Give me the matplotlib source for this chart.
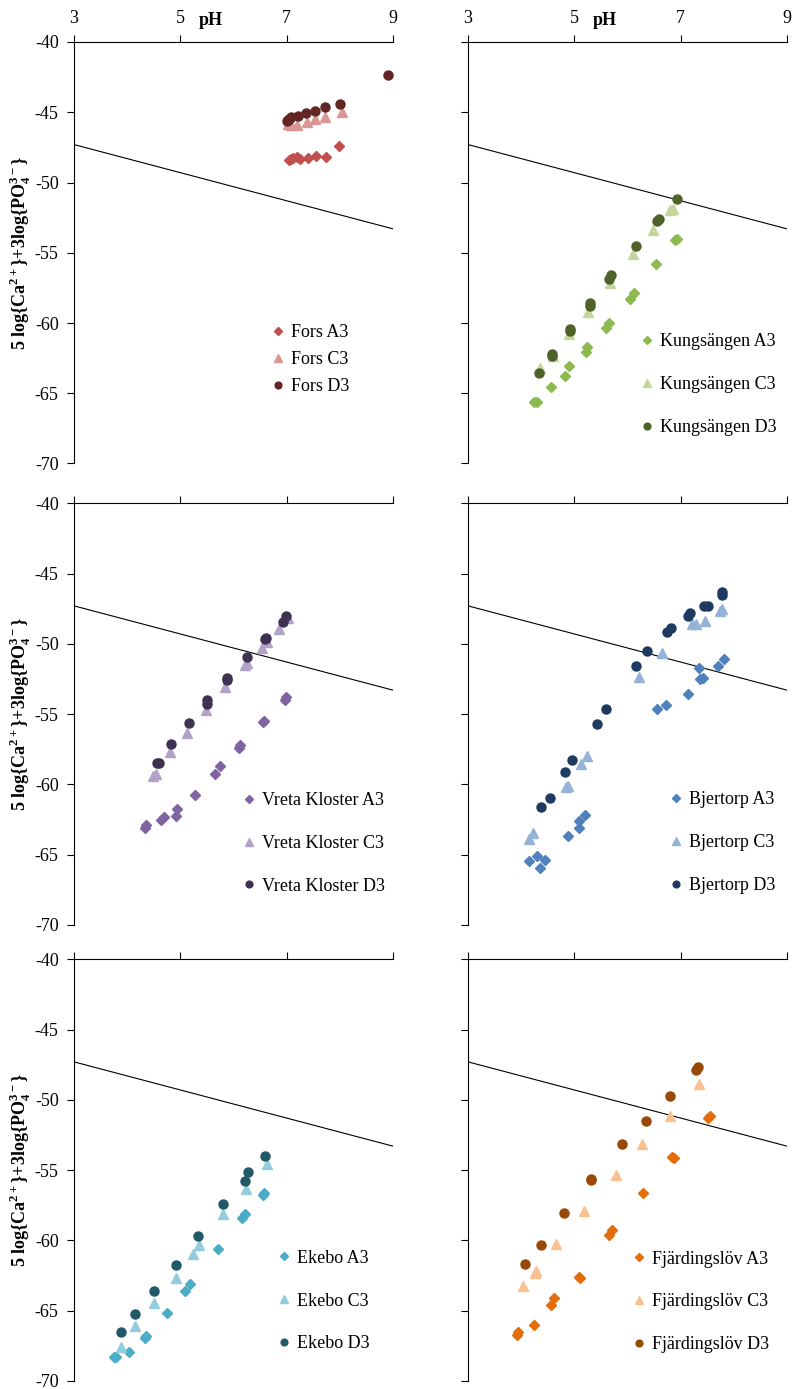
import numpy as np
import matplotlib.pyplot as plt

plt.rcParams['font.family'] = ['Liberation Serif', 'DejaVu Serif']
plt.rcParams['font.size'] = 13
plt.rcParams['axes.unicode_minus'] = False
plt.rcParams['mathtext.fontset'] = 'custom'
plt.rcParams['mathtext.rm'] = 'Liberation Serif'
plt.rcParams['mathtext.bf'] = 'Liberation Serif:bold'

# ================= DATA (pH, 5log{Ca}+3log{PO4}) =================
fors_a3_ph = [7.05, 7.09, 7.12, 7.19, 7.25, 7.41, 7.55, 7.74, 7.99]
fors_a3_y = [-48.41, -48.30, -48.29, -48.17, -48.36, -48.29, -48.13, -48.22, -47.39]
fors_c3_ph = [7.03, 7.09, 7.19, 7.38, 7.53, 7.72, 8.05]
fors_c3_y = [-45.85, -45.92, -45.92, -45.68, -45.51, -45.32, -44.97]
fors_d3_ph = [7.00, 7.03, 7.05, 7.09, 7.22, 7.36, 7.53, 7.72, 8.00, 8.90]
fors_d3_y = [-45.65, -45.56, -45.45, -45.37, -45.27, -45.08, -44.90, -44.66, -44.42, -42.33]

kung_a3_ph = [4.25, 4.30, 4.57, 4.82, 4.90, 5.22, 5.24, 5.60, 5.66, 6.05, 6.12, 6.53, 6.90, 6.93]
kung_a3_y = [-65.65, -65.65, -64.54, -63.75, -63.04, -62.04, -61.69, -60.38, -60.02, -58.29, -57.89, -55.82, -54.09, -54.01]
kung_c3_ph = [4.35, 4.60, 4.90, 5.25, 5.67, 6.10, 6.48, 6.80, 6.85]
kung_c3_y = [-63.23, -62.35, -60.81, -59.19, -57.13, -55.08, -53.37, -51.95, -51.88]
kung_d3_ph = [4.33, 4.58, 4.58, 4.92, 4.92, 5.29, 5.30, 5.66, 5.69, 6.16, 6.55, 6.59, 6.94]
kung_d3_y = [-63.59, -62.23, -62.35, -60.43, -60.57, -58.60, -58.79, -56.89, -56.58, -54.51, -52.71, -52.61, -51.16]

vreta_a3_ph = [4.34, 4.36, 4.64, 4.69, 4.92, 4.94, 5.28, 5.66, 5.75, 6.11, 6.13, 6.56, 6.58, 6.96, 6.98]
vreta_a3_y = [-63.11, -62.92, -62.52, -62.33, -62.26, -61.78, -60.78, -59.24, -58.69, -57.39, -57.22, -55.56, -55.49, -53.97, -53.82]
vreta_c3_ph = [4.49, 4.54, 4.81, 5.13, 5.49, 5.84, 6.22, 6.25, 6.53, 6.63, 6.86, 7.03]
vreta_c3_y = [-59.41, -59.24, -57.70, -56.35, -54.69, -53.11, -51.52, -51.35, -50.33, -49.86, -48.98, -48.19]
vreta_d3_ph = [4.56, 4.59, 4.83, 5.17, 5.51, 5.51, 5.88, 5.88, 6.26, 6.59, 6.61, 6.93, 6.99]
vreta_d3_y = [-58.46, -58.46, -57.15, -55.61, -53.97, -54.32, -52.42, -52.59, -50.97, -49.67, -49.62, -48.43, -48.00]

bjer_a3_ph = [4.15, 4.29, 4.36, 4.44, 4.88, 5.08, 5.09, 5.21, 6.55, 6.72, 7.14, 7.34, 7.37, 7.42, 7.70, 7.81]
bjer_a3_y = [-65.49, -65.07, -65.97, -65.42, -63.71, -63.12, -62.62, -62.22, -54.66, -54.37, -53.56, -51.74, -52.52, -52.43, -51.55, -51.07]
bjer_c3_ph = [4.14, 4.22, 4.85, 4.89, 5.12, 5.23, 6.21, 6.65, 7.21, 7.28, 7.45, 7.74, 7.78]
bjer_c3_y = [-63.88, -63.48, -60.20, -60.09, -58.54, -58.00, -52.38, -50.67, -48.58, -48.58, -48.35, -47.64, -47.52]
bjer_d3_ph = [4.38, 4.55, 4.82, 4.96, 5.42, 5.59, 6.16, 6.36, 6.74, 6.82, 7.14, 7.18, 7.44, 7.52, 7.78, 7.78]
bjer_d3_y = [-61.63, -60.99, -59.14, -58.26, -55.70, -54.66, -51.57, -50.51, -49.13, -48.87, -47.99, -47.83, -47.33, -47.33, -46.50, -46.33]

ekebo_a3_ph = [3.76, 3.79, 4.04, 4.33, 4.36, 4.74, 5.08, 5.18, 5.70, 6.16, 6.21, 6.56, 6.58]
ekebo_a3_y = [-68.34, -68.29, -67.96, -66.96, -66.84, -65.14, -63.60, -63.10, -60.61, -58.38, -58.12, -56.77, -56.65]
ekebo_c3_ph = [3.89, 4.15, 4.51, 4.92, 5.24, 5.35, 5.81, 6.24, 6.63]
ekebo_c3_y = [-67.56, -66.13, -64.47, -62.65, -60.99, -60.37, -58.14, -56.34, -54.58]
ekebo_d3_ph = [3.88, 4.15, 4.51, 4.91, 5.33, 5.81, 6.21, 6.28, 6.60]
ekebo_d3_y = [-66.56, -65.26, -63.64, -61.79, -59.66, -57.43, -55.77, -55.15, -53.99]

fjard_a3_ph = [3.93, 3.94, 4.24, 4.57, 4.61, 5.09, 5.10, 5.66, 5.71, 6.29, 6.84, 6.88, 7.51, 7.55]
fjard_a3_y = [-66.73, -66.50, -66.02, -64.59, -64.11, -62.61, -62.68, -59.63, -59.28, -56.61, -54.08, -54.13, -51.29, -51.13]
fjard_c3_ph = [4.04, 4.26, 4.28, 4.65, 5.18, 5.78, 6.28, 6.79, 7.35]
fjard_c3_y = [-63.23, -62.33, -62.16, -60.25, -57.92, -55.34, -53.18, -51.13, -48.91]
fjard_d3_ph = [4.07, 4.37, 4.80, 5.31, 5.32, 5.89, 6.34, 6.79, 7.28, 7.32]
fjard_d3_y = [-61.68, -60.30, -58.08, -55.73, -55.61, -53.18, -51.48, -49.70, -47.86, -47.67]

# solubility line (same in every panel)
line_ph = [3, 9]
line_y = [-47.3, -53.3]

sites = ['Fors', 'Kungsängen', 'Vreta Kloster', 'Bjertorp', 'Ekebo', 'Fjärdingslöv']
series = [
    [(fors_a3_ph, fors_a3_y), (fors_c3_ph, fors_c3_y), (fors_d3_ph, fors_d3_y)],
    [(kung_a3_ph, kung_a3_y), (kung_c3_ph, kung_c3_y), (kung_d3_ph, kung_d3_y)],
    [(vreta_a3_ph, vreta_a3_y), (vreta_c3_ph, vreta_c3_y), (vreta_d3_ph, vreta_d3_y)],
    [(bjer_a3_ph, bjer_a3_y), (bjer_c3_ph, bjer_c3_y), (bjer_d3_ph, bjer_d3_y)],
    [(ekebo_a3_ph, ekebo_a3_y), (ekebo_c3_ph, ekebo_c3_y), (ekebo_d3_ph, ekebo_d3_y)],
    [(fjard_a3_ph, fjard_a3_y), (fjard_c3_ph, fjard_c3_y), (fjard_d3_ph, fjard_d3_y)],
]
horizons = ['A3', 'C3', 'D3']

# ================= STYLE =================
colors = [
    ['#C0504D', '#D99694', '#632523'],
    ['#8DBA4E', '#C3D69B', '#4F6228'],
    ['#8064A2', '#B3A2C7', '#3F3151'],
    ['#4F81BD', '#95B3D7', '#1F3A60'],
    ['#4BACC6', '#93CDDD', '#215968'],
    ['#E46C0A', '#FAC090', '#984807'],
]
markers = ['D', '^', 'o']
msizes = [5, 7, 6.5]
# legend anchor (axes coords) and row spacing per panel
leg_pos = [(0.617, 0.247), (0.539, 0.187), (0.527, 0.193),
           (0.630, 0.195), (0.637, 0.189), (0.514, 0.187)]
leg_space = [0.55, 1.43, 1.43, 1.43, 1.43, 1.43]

W, H = 792, 1389
col_left = [74, 468]
row_top = [42, 503.3, 959.3]
ax_w, ax_h = 319, 421.5

ylabel = r'5 log{Ca$^{\mathbf{2+}}$}+3log{PO$_{\mathbf{4}}^{\mathbf{3-}}$}'

fig = plt.figure(figsize=(W / 100, H / 100), dpi=100)

for k in range(6):
    r, c = divmod(k, 2)
    ax = fig.add_axes([col_left[c] / W, 1 - (row_top[r] + ax_h) / H, ax_w / W, ax_h / H])

    ax.plot(line_ph, line_y, color='black', lw=0.8)
    for j in range(3):
        ph, y = series[k][j]
        ax.plot(ph, y, linestyle='none', marker=markers[j], ms=msizes[j],
                color=colors[k][j], label=sites[k] + ' ' + horizons[j])

    ax.set_xlim(3, 9)
    ax.set_ylim(-70, -40)
    ax.set_xticks([3, 5, 7, 9])
    ax.set_yticks(np.arange(-70, -39, 5))
    ax.spines['right'].set_visible(False)
    ax.spines['bottom'].set_visible(False)
    ax.xaxis.tick_top()
    ax.tick_params(direction='out', length=5, width=0.8, pad=6)
    if r > 0:
        ax.tick_params(labeltop=False)
    else:
        ax.text(0.428, 1.052, 'pH', transform=ax.transAxes, ha='center', va='center',
                fontweight='bold')
    if c == 1:
        ax.tick_params(labelleft=False)
    else:
        ax.set_ylabel(ylabel, fontweight='bold')
        ax.yaxis.set_label_coords(-0.128, 0.5)

    ax.legend(frameon=False, loc='center left', bbox_to_anchor=leg_pos[k],
              borderpad=0, borderaxespad=0, handlelength=0.8, handletextpad=0.3,
              labelspacing=leg_space[k], markerscale=0.75)

fig.savefig('out.png', dpi=100)
